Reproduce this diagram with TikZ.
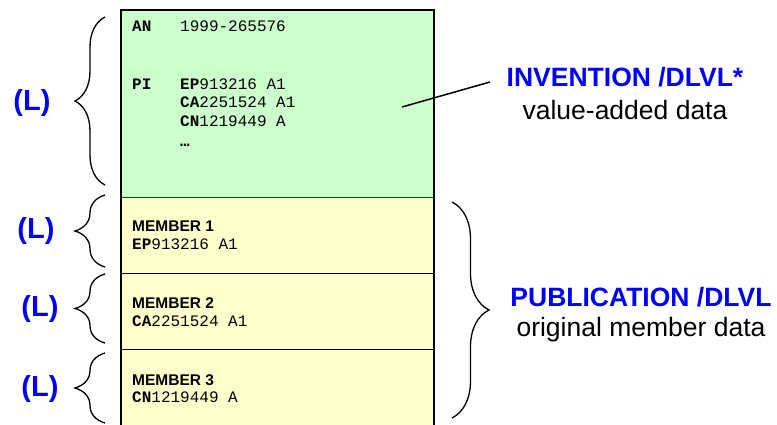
\documentclass[tikz,border=0pt]{standalone}
\usepackage{fontspec}
\setmainfont{Liberation Sans}
\setmonofont{Liberation Mono}
\usetikzlibrary{decorations.pathreplacing}
\definecolor{invgreen}{HTML}{CCFFCC}
\definecolor{memyellow}{HTML}{FFFFCC}
\definecolor{dlvlblue}{HTML}{0000FF}
\tikzset{
  brc/.style={decorate,decoration={brace,amplitude=#1},line width=1.3pt},
  lvl/.style={text=dlvlblue,font=\fontsize{29}{29}\selectfont\bfseries},
  mono/.style={anchor=base west,inner sep=0pt,font=\fontsize{16}{16}\selectfont\ttfamily},
  memb/.style={anchor=base west,inner sep=0pt,font=\fontsize{15.5}{15.5}\selectfont\bfseries},
  head/.style={text=dlvlblue,font=\fontsize{26.5}{26.5}\selectfont\bfseries},
  sub/.style={font=\fontsize{26.5}{26.5}\selectfont}
}
\begin{document}
\begin{tikzpicture}[x=1pt,y=-1pt]
\useasboundingbox (0,0) rectangle (777,425);
\fill[invgreen] (121,10) rectangle (434,197);
\fill[memyellow] (121,197) rectangle (434,425);
\draw[line width=0.8pt,black!70!green] (121,197) -- (434,197);
\draw[line width=0.8pt] (121,273) -- (434,273);
\draw[line width=0.8pt] (121,349) -- (434,349);
\draw[line width=2pt] (121,425) -- (121,10) -- (434,10) -- (434,425);
\node[mono] (an) at (132,32) {\textbf{AN}};
\node[mono] (anv) at (180,32) {1999-265576};
\node[mono] (pi) at (132,90) {\textbf{PI}};
\node[mono] (pi1) at (180,90) {\textbf{EP}913216 A1};
\node[mono] (pi2) at (180,108) {\textbf{CA}2251524 A1};
\node[mono] (pi3) at (180,127) {\textbf{CN}1219449 A};
\node[mono] (pi4) at (180,147) {\textbf{…}};
\node[memb] (m1) at (132,232) {MEMBER 1};
\node[mono] (m1v) at (132,249) {\textbf{EP}913216 A1};
\node[memb] (m2) at (132,308) {MEMBER 2};
\node[mono] (m2v) at (132,326) {\textbf{CA}2251524 A1};
\node[memb] (m3) at (132,385) {MEMBER 3};
\node[mono] (m3v) at (132,402) {\textbf{CN}1219449 A};
\foreach \t/\b/\lx/\ly in {17/185/32/103,195/267/36/231,274/343/40/309,353/423/40/389}{
  \draw[brc=30pt] (105,\b) -- (105,\t);
  \node[lvl] at (\lx,\ly) {(L)};
}
\draw[brc=37pt] (452,202) -- (452,418);
\node[head] (inv) at (625,77) {INVENTION /DLVL*};
\node[sub] (invs) at (625,110) {value-added data};
\node[head] (pub) at (641,297) {PUBLICATION /DLVL};
\node[sub] (pubs) at (641,330) {original member data};
\coordinate (ptr) at (402,107);
\coordinate (tip) at (490,82);
\draw[line width=1.5pt] (ptr) -- (tip);
\end{tikzpicture}
\end{document}
